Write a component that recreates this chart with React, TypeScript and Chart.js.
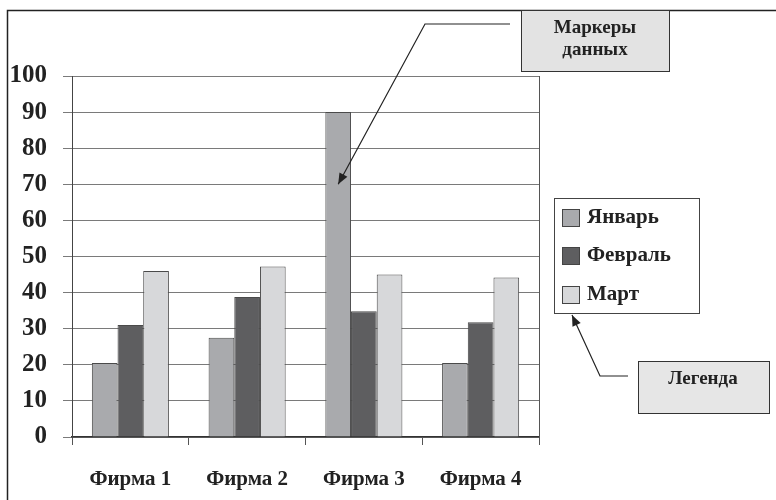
import React, { useEffect, useRef } from "react";
import { Chart, registerables } from "chart.js";

Chart.register(...registerables);

const categories = ["Фирма 1", "Фирма 2", "Фирма 3", "Фирма 4"];
const seriesNames = ["Январь", "Февраль", "Март"];
const january = [20.5, 27.5, 90, 20.5];
const february = [31, 38.8, 34.8, 31.8];
const march = [46, 47.2, 45, 44.2];
const seriesColors = ["#a9aaad", "#5e5e60", "#d7d8da"];
const yMin = 0;
const yMax = 100;
const yStep = 10;
const markerNote = ["Маркеры", "данных"];
const legendNote = "Легенда";
const markerTargetValue = 70;

const FONT = '"Liberation Serif", "Times New Roman", serif';

function arrow(ctx: CanvasRenderingContext2D, pts: number[][]) {
  ctx.beginPath();
  ctx.moveTo(pts[0][0], pts[0][1]);
  for (let i = 1; i < pts.length; i++) ctx.lineTo(pts[i][0], pts[i][1]);
  ctx.stroke();
  const [x1, y1] = pts[pts.length - 2];
  const [x2, y2] = pts[pts.length - 1];
  const ang = Math.atan2(y2 - y1, x2 - x1);
  const len = 11;
  const w = 4.5;
  ctx.beginPath();
  ctx.moveTo(x2, y2);
  ctx.lineTo(x2 - len * Math.cos(ang) + w * Math.sin(ang), y2 - len * Math.sin(ang) - w * Math.cos(ang));
  ctx.lineTo(x2 - len * Math.cos(ang) - w * Math.sin(ang), y2 - len * Math.sin(ang) + w * Math.cos(ang));
  ctx.closePath();
  ctx.fill();
}

const deco = {
  id: "deco",
  afterDraw(chart: any) {
    const ctx: CanvasRenderingContext2D = chart.ctx;
    const a = chart.chartArea;
    ctx.save();
    // plot area right border
    ctx.strokeStyle = "#555";
    ctx.lineWidth = 1;
    ctx.beginPath();
    ctx.moveTo(Math.round(a.right) + 0.5, a.top);
    ctx.lineTo(Math.round(a.right) + 0.5, a.bottom + 8);
    ctx.stroke();

    // outer frame
    ctx.strokeStyle = "#222";
    ctx.lineWidth = 1.5;
    ctx.beginPath();
    ctx.moveTo(7.5, 500);
    ctx.lineTo(7.5, 10.5);
    ctx.lineTo(776, 10.5);
    ctx.stroke();

    // legend
    ctx.fillStyle = "#fff";
    ctx.fillRect(554, 198, 145, 115);
    ctx.strokeStyle = "#444";
    ctx.lineWidth = 1;
    ctx.strokeRect(554.5, 198.5, 145, 115);
    const rows = [218, 256, 295];
    chart.data.datasets.forEach((ds: any, i: number) => {
      const cy = rows[i];
      ctx.fillStyle = ds.backgroundColor;
      ctx.fillRect(562, cy - 9, 18, 18);
      ctx.strokeStyle = "#444";
      ctx.strokeRect(562.5, cy - 8.5, 17, 17);
      ctx.fillStyle = "#222";
      ctx.font = `bold 21px ${FONT}`;
      ctx.textAlign = "left";
      ctx.textBaseline = "middle";
      ctx.fillText(ds.label, 587, cy);
    });

    // marker note box
    ctx.fillStyle = "#e3e3e3";
    ctx.fillRect(521, 10, 148, 61);
    ctx.strokeStyle = "#333";
    ctx.strokeRect(521.5, 10.5, 148, 61);
    ctx.fillStyle = "#222";
    ctx.font = `bold 19px ${FONT}`;
    ctx.textAlign = "center";
    ctx.textBaseline = "middle";
    ctx.fillText(markerNote[0], 595, 28);
    ctx.fillText(markerNote[1], 595, 50);

    // legend note box
    ctx.fillStyle = "#e6e6e6";
    ctx.fillRect(638, 361, 131, 52);
    ctx.strokeStyle = "#333";
    ctx.strokeRect(638.5, 361.5, 131, 52);
    ctx.fillStyle = "#222";
    ctx.fillText(legendNote, 703, 379);

    // arrows
    const bar = chart.getDatasetMeta(0).data[2];
    const ty = chart.scales.y.getPixelForValue(markerTargetValue);
    ctx.strokeStyle = "#222";
    ctx.fillStyle = "#222";
    ctx.lineWidth = 1.2;
    arrow(ctx, [[510, 24], [425, 24], [bar.x, ty]]);
    arrow(ctx, [[628, 376], [600, 376], [572, 315]]);
    ctx.restore();
  },
};

export default function App() {
  const ref = useRef<HTMLCanvasElement>(null);
  useEffect(() => {
    if (!ref.current) return;
    const data = [january, february, march];
    const chart = new Chart(ref.current, {
      type: "bar",
      data: {
        labels: categories,
        datasets: seriesNames.map((name, i) => ({
          label: name,
          data: data[i],
          backgroundColor: seriesColors[i],
          borderColor: "#4a4a4a",
          borderWidth: 1,
          categoryPercentage: 0.66,
          barPercentage: 1.0,
        })),
      },
      options: {
        responsive: false,
        animation: false,
        devicePixelRatio: 1,
        layout: { padding: { left: 0, top: 76, right: 237, bottom: 0 } },
        plugins: { legend: { display: false }, tooltip: { enabled: false } },
        scales: {
          x: {
            grid: {
              display: true,
              drawOnChartArea: false,
              drawTicks: true,
              tickLength: 8,
              color: "#555",
            },
            border: { display: true, color: "#333", width: 1.5 },
            ticks: {
              color: "#222",
              font: { family: FONT, size: 21, weight: "bold" },
              padding: 22,
            },
            afterFit(scale: any) {
              scale.height = 63;
              scale.paddingLeft = 0;
              scale.paddingRight = 0;
            },
          },
          y: {
            min: yMin,
            max: yMax,
            ticks: {
              stepSize: yStep,
              color: "#222",
              font: { family: FONT, size: 25, weight: "bold" },
              padding: 16,
            },
            grid: { color: "#7a7a7a", lineWidth: 1, tickLength: 9 },
            border: { display: true, color: "#444", width: 1 },
            afterFit(scale: any) {
              scale.width = 72;
              scale.paddingTop = 0;
              scale.paddingBottom = 0;
            },
          },
        },
      },
      plugins: [deco],
    });
    return () => chart.destroy();
  }, []);
  return (
    <div style={{ position: "fixed", left: 0, top: 0, width: 776, height: 500, background: "#fff" }}>
      <canvas ref={ref} width={776} height={500} style={{ display: "block" }} />
    </div>
  );
}
